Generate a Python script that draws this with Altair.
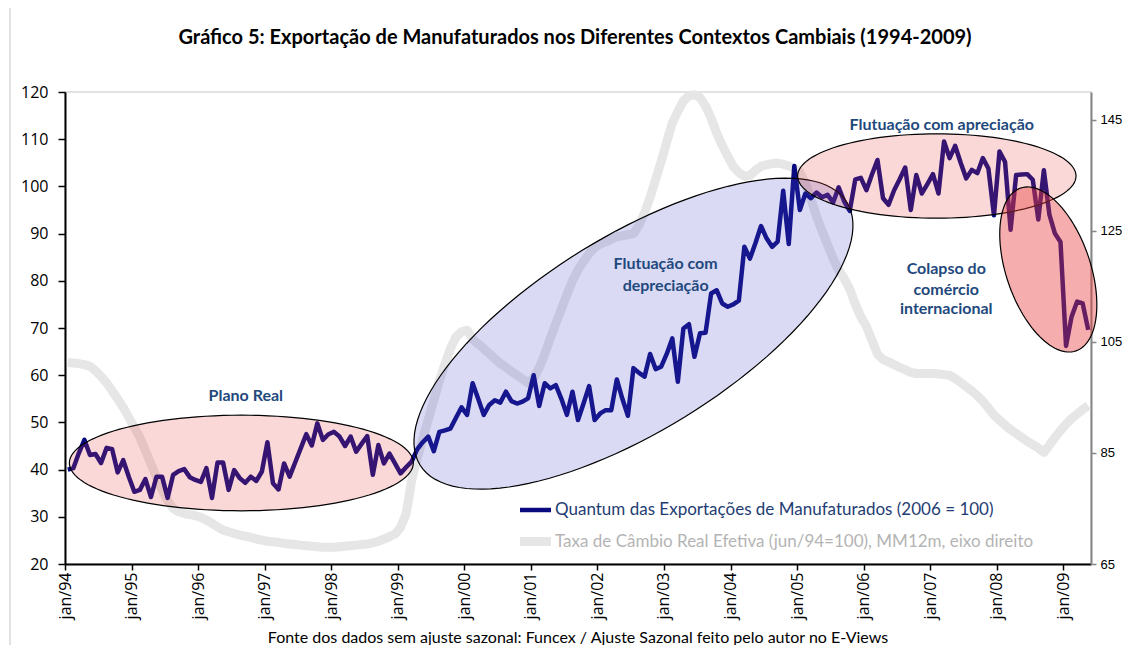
import json
import numpy as np
import pandas as pd
import altair as alt

# ---------------- data (monthly, jan/94 .. may/09) ----------------
QUANTUM = [
    40.0, 40.3, 43.5, 46.3, 43.1, 43.3, 41.4, 44.6, 44.3, 39.4, 42.0, 38.5,   # 1994
    35.3, 35.7, 38.0, 34.2, 38.5, 38.5, 34.0, 38.9, 39.7, 40.1, 38.4, 37.8,   # 1995
    37.4, 40.3, 34.0, 41.5, 41.5, 35.7, 39.9, 38.2, 37.2, 38.5, 37.6, 39.6,   # 1996
    45.8, 37.1, 35.8, 41.3, 38.5, 41.5, 44.5, 47.5, 45.1, 49.8, 46.3, 47.5,   # 1997
    48.0, 47.0, 45.0, 47.0, 43.8, 45.5, 47.1, 38.9, 45.2, 41.3, 43.4, 41.3,   # 1998
    39.2, 40.5, 41.7, 44.3, 45.8, 47.0, 43.9, 48.0, 48.3, 48.7, 51.0, 53.2,   # 1999
    51.6, 58.3, 55.0, 51.6, 53.7, 54.7, 54.2, 56.5, 54.5, 54.0, 54.4, 55.1,   # 2000
    60.0, 53.5, 58.3, 57.2, 57.9, 55.0, 51.6, 56.5, 50.5, 54.0, 57.7, 50.5,   # 2001
    51.9, 52.6, 52.6, 59.1, 55.0, 51.4, 61.5, 60.5, 59.7, 64.5, 61.3, 61.8,   # 2002
    64.5, 67.8, 58.6, 69.9, 70.8, 63.9, 68.9, 69.0, 77.3, 78.0, 75.2, 74.5,   # 2003
    75.0, 75.8, 87.2, 84.7, 88.0, 91.6, 89.0, 87.2, 88.3, 99.1, 87.8, 104.3,  # 2004
    95.0, 98.5, 97.5, 98.7, 97.7, 98.2, 96.6, 99.8, 96.8, 94.8, 101.5, 101.8, # 2005
    99.2, 102.5, 105.6, 97.5, 96.1, 99.2, 101.5, 104.0, 95.0, 102.4, 98.5, 100.5,  # 2006
    102.6, 98.5, 109.5, 106.0, 108.6, 105.0, 101.7, 103.5, 102.8, 106.0, 103.8, 93.9,  # 2007
    107.4, 105.2, 90.8, 102.4, 102.5, 102.6, 101.4, 93.0, 103.4, 94.0, 90.0, 88.2,  # 2008
    66.2, 72.4, 75.6, 75.2, 69.6,                                               # 2009
]

CAMBIO = [
    101.3, 101.2, 101.1, 100.9, 100.6, 99.8, 98.8, 97.6, 96.2, 94.7, 93.2, 91.4,
    89.6, 87.8, 85.4, 83.0, 80.6, 78.4, 76.4, 75.0, 74.4, 74.1, 73.9, 73.7,
    73.4, 72.9, 72.3, 71.7, 71.1, 70.8, 70.5, 70.2, 70.0, 69.8, 69.5, 69.3,
    69.1, 69.0, 68.9, 68.7, 68.6, 68.5, 68.4, 68.3, 68.2, 68.1, 68.0, 68.0,
    68.0, 68.1, 68.2, 68.3, 68.4, 68.5, 68.6, 68.8, 69.1, 69.5, 69.9, 70.4,
    71.6, 74.0, 80.0, 84.0, 87.5, 91.0, 94.5, 98.0, 101.0, 103.8, 105.9, 106.8,
    107.1, 105.5, 104.6, 103.8, 102.9, 102.0, 101.1, 100.4, 99.7, 99.0, 98.3, 97.6,
    98.5, 100.3, 102.8, 105.6, 108.3, 110.9, 113.5, 116.0, 118.0, 119.5, 120.9, 122.0,
    122.6, 123.0, 123.5, 123.9, 124.1, 124.3, 124.5, 126.0, 128.3, 131.0, 134.3, 137.5,
    141.0, 144.4, 146.5, 148.4, 149.3, 149.5, 149.0, 147.5, 145.3, 142.6, 140.4, 138.4,
    136.6, 135.5, 134.8, 135.0, 135.9, 136.6, 136.9, 137.1, 137.2, 137.0, 136.7, 136.3,
    135.6, 133.6, 130.8, 127.6, 125.0, 122.5, 120.0, 117.9, 116.4, 114.5, 111.8, 109.5,
    107.8, 105.3, 102.8, 101.8, 101.4, 100.9, 100.4, 100.0, 99.5, 99.3, 99.3, 99.3,
    99.3, 99.2, 99.1, 99.0, 98.4, 97.7, 96.9, 96.2, 95.3, 94.3, 93.1, 91.8,
    90.9, 90.0, 89.2, 88.5, 87.8, 87.1, 86.5, 85.9, 85.1, 86.4, 87.8, 89.0,
    90.2, 91.2, 92.0, 92.8, 93.5,
]

TICK_MONTHS = [0, 12, 24, 36, 48, 60, 72, 84, 96, 108, 120, 132, 144, 156, 168, 180]
TICK_LABELS = ["jan/94", "jan/95", "jan/96", "jan/97", "jan/98", "jan/99", "jan/00",
               "jan/01", "jan/02", "jan/03", "jan/04", "jan/05", "jan/06", "jan/07",
               "jan/08", "jan/09"]
LEFT_TICKS = [20, 30, 40, 50, 60, 70, 80, 90, 100, 110, 120]
RIGHT_TICKS = [65, 85, 105, 125, 145]

TITLE = "Gráfico 5: Exportação de Manufaturados nos Diferentes Contextos Cambiais (1994-2009)"
FOOTNOTE = "Fonte dos dados sem ajuste sazonal: Funcex / Ajuste Sazonal feito pelo autor no E-Views"
LEGEND_1 = "Quantum das Exportações de Manufaturados (2006 = 100)"
LEGEND_2 = "Taxa de Câmbio Real Efetiva (jun/94=100), MM12m, eixo direito"

# annotation ellipses (centre in data units)
ELL_NAME = ["Plano Real", "Flutuação com depreciação", "Flutuação com apreciação",
            "Colapso do comércio internacional"]
ELL_CX = [31.8, 102.5, 157.2, 177.3]
ELL_CY = [41.4, 68.8, 102.2, 82.4]

# annotation texts
ANN_TEXT = ["Plano Real", "Flutuação com", "depreciação", "Flutuação com apreciação",
            "Colapso do", "comércio", "internacional"]
ANN_X = [32.6, 108.3, 108.3, 158.1, 158.9, 158.9, 158.9]
ANN_Y = [55.6, 83.5, 78.9, 113.0, 82.5, 78.05, 74.0]

# ---------------- layout ----------------
W, H = 1026, 472
XMAX = 185
NAVY = "#0a0a80"
TEXT_BLUE = "#1f497d"
GRAY_LINE = "#e6e6e6"

df = pd.DataFrame({
    "mes": np.arange(len(QUANTUM)) + 0.5,
    "quantum": QUANTUM,
    "cambio": CAMBIO,
})

xscale = alt.Scale(domain=[0, XMAX], nice=False, zero=False)
yl_scale = alt.Scale(domain=[20, 120], nice=False, zero=False)
yr_scale = alt.Scale(domain=[65, 150], nice=False, zero=False)

label_expr = json.dumps(TICK_LABELS) + "[round(datum.value / 12)]"

x_axis = alt.Axis(
    values=TICK_MONTHS, labelExpr=label_expr, title=None, grid=False, orient="bottom",
    labelAngle=270, labelAlign="right", labelBaseline="middle",
    labelFont="Open Sans", labelFontSize=16, labelColor="black", labelPadding=2,
    domainColor="black", domainWidth=2, tickColor="black", tickWidth=1.5, tickSize=6,
    labelOverlap=False,
)
yl_axis = alt.Axis(
    values=LEFT_TICKS, orient="left", title=None, grid=False,
    labelFont="Open Sans", labelFontSize=16, labelColor="black", labelPadding=10,
    domainColor="black", domainWidth=2, tickColor="black", tickWidth=1.5, tickSize=7,
)
yr_axis = alt.Axis(
    values=RIGHT_TICKS, orient="right", title=None, grid=False,
    labelFont="Liberation Sans", labelFontSize=13, labelColor="black", labelPadding=4,
    domainColor="#868686", domainWidth=2, tickColor="#868686", tickWidth=1.5, tickSize=5,
)

gray = alt.Chart(df).mark_line(
    color=GRAY_LINE, strokeWidth=9, strokeJoin="round", strokeCap="butt"
).encode(
    x=alt.X("mes:Q", scale=xscale, axis=x_axis),
    y=alt.Y("cambio:Q", scale=yr_scale, axis=yr_axis),
)

navy = alt.Chart(df).mark_line(
    color=NAVY, strokeWidth=4.5, strokeJoin="round"
).encode(
    x=alt.X("mes:Q", scale=xscale, axis=x_axis),
    y=alt.Y("quantum:Q", scale=yl_scale, axis=yl_axis),
)


def ellipse_path(ratio, n=120):
    t = np.linspace(0, 2 * np.pi, n, endpoint=False)
    pts = [f"{np.cos(a):.4f},{ratio * np.sin(a):.4f}" for a in t]
    return "M" + "L".join(pts) + "Z"


# style of each ellipse: semi-axes (px), rotation, fill, fill opacity
ELL_STYLE = [
    dict(a=172.0, b=47.8, angle=0, fill="#e63c3c", op=0.2),
    dict(a=250.6, b=97.8, angle=328.4, fill="#4646c8", op=0.2),
    dict(a=139.2, b=42.2, angle=0, fill="#e63c3c", op=0.2),
    dict(a=86.0, b=42.1, angle=71.2, fill="#e63c3c", op=0.42),
]

ell_df = pd.DataFrame({"nome": ELL_NAME, "cx": ELL_CX, "cy": ELL_CY})
ellipses = []
for i, st in enumerate(ELL_STYLE):
    ellipses.append(
        alt.Chart(ell_df.iloc[[i]]).mark_point(
            shape=ellipse_path(st["b"] / st["a"]),
            size=(2 * st["a"]) ** 2,
            angle=st["angle"],
            filled=True,
            fill=st["fill"],
            fillOpacity=st["op"],
            stroke="black",
            strokeWidth=1.2,
            strokeOpacity=1,
            opacity=1,
        ).encode(
            x=alt.X("cx:Q", scale=xscale, axis=x_axis),
            y=alt.Y("cy:Q", scale=yl_scale, axis=yl_axis),
        )
    )

ann_df = pd.DataFrame({"t": ANN_TEXT, "x": ANN_X, "y": ANN_Y})
annotations = alt.Chart(ann_df).mark_text(
    font="Lato", fontSize=16, fontWeight="bold", color=TEXT_BLUE,
    align="center", baseline="middle",
).encode(
    x=alt.X("x:Q", scale=xscale, axis=x_axis),
    y=alt.Y("y:Q", scale=yl_scale, axis=yl_axis),
    text="t:N",
)

one = pd.DataFrame({"k": [0]})

leg_line1 = alt.Chart(one).mark_rule(color=NAVY, strokeWidth=4.5).encode(
    x=alt.value(455), x2=alt.value(486), y=alt.value(418))
leg_line2 = alt.Chart(one).mark_rule(color=GRAY_LINE, strokeWidth=9).encode(
    x=alt.value(455), x2=alt.value(486), y=alt.value(449.5))
leg_text1 = alt.Chart(one).mark_text(
    font="Lato", fontSize=17, color="#1f3d73", align="left", baseline="middle"
).encode(x=alt.value(490), y=alt.value(418), text=alt.value(LEGEND_1))
leg_text2 = alt.Chart(one).mark_text(
    font="Lato", fontSize=17, color="#b4b4b4", align="left", baseline="middle"
).encode(x=alt.value(490), y=alt.value(449.5), text=alt.value(LEGEND_2))

title = alt.Chart(one).mark_text(
    font="Lato", fontSize=20, fontWeight="bold", color="black",
    align="center", baseline="middle",
).encode(x=alt.value(510), y=alt.value(-54), text=alt.value(TITLE))

footnote = alt.Chart(one).mark_text(
    font="Lato", fontSize=16, color="black", align="center", baseline="middle",
).encode(x=alt.value(513), y=alt.value(546), text=alt.value(FOOTNOTE))

border = alt.Chart(one).mark_rule(color="#d9d9d9", strokeWidth=1.5).encode(
    x=alt.value(-55), y=alt.value(-92), y2=alt.value(561))

left = alt.layer(navy, *ellipses, annotations, leg_line1, leg_line2,
                 leg_text1, leg_text2, title, footnote, border)

chart = alt.layer(gray, left).resolve_scale(y="independent").properties(
    width=W, height=H,
    autosize=alt.AutoSizeParams(type="none"),
    padding={"left": 57, "top": 84, "right": 31, "bottom": 81},
    background="white",
).configure_view(stroke="#d9d9d9", strokeWidth=1.5)

chart.save("out.html", embed_options={"renderer": "svg", "actions": False})
